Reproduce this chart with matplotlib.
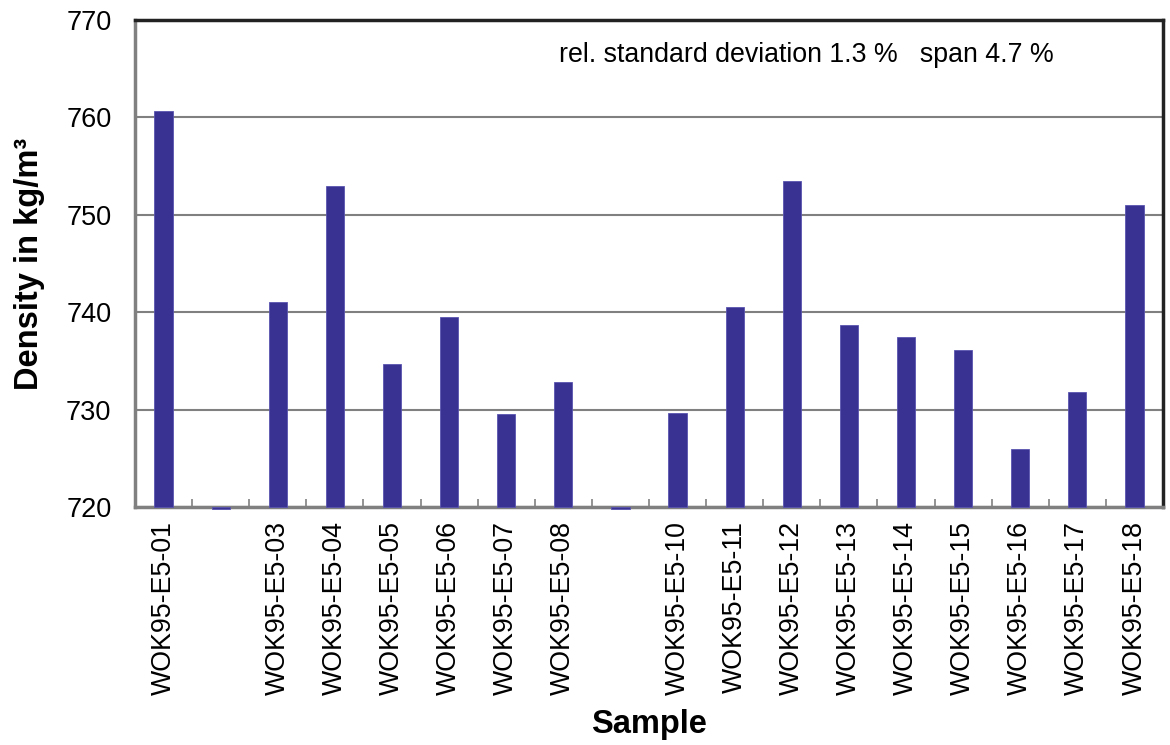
import numpy as np
from matplotlib import pyplot as plt

plt.rcParams['font.family'] = ['Liberation Sans', 'DejaVu Sans']

# sample labels (two samples have no value)
samples = ['WOK95-E5-01', '', 'WOK95-E5-03', 'WOK95-E5-04', 'WOK95-E5-05',
           'WOK95-E5-06', 'WOK95-E5-07', 'WOK95-E5-08', '', 'WOK95-E5-10',
           'WOK95-E5-11', 'WOK95-E5-12', 'WOK95-E5-13', 'WOK95-E5-14',
           'WOK95-E5-15', 'WOK95-E5-16', 'WOK95-E5-17', 'WOK95-E5-18']
density = [760.65, 719.75, 741.1, 753.0, 734.7, 739.5, 729.5, 732.8, 719.75,
           729.65, 740.5, 753.45, 738.65, 737.5, 736.1, 726.0, 731.8, 751.0]
yticks = [720, 730, 740, 750, 760, 770]
note = 'rel. standard deviation 1.3 %   span 4.7 %'

base = 720
fig = plt.figure(figsize=(11.7, 7.45), dpi=100)
ax = fig.add_axes([0.1154, 0.3195, 0.8786, 0.6535])

x = np.arange(len(samples))
heights = [v - base for v in density]
ax.bar(x, heights, bottom=base, width=0.32, color='#3a3293',
       edgecolor='#5b55b0', linewidth=0.6, zorder=3, clip_on=False)

ax.set_xlim(-0.5, len(samples) - 0.5)
ax.set_ylim(720, 770)
ax.set_yticks(yticks)
ax.tick_params(axis='y', length=0, labelsize=19.5, pad=17)
ax.set_xticks(x)
ax.set_xticklabels(samples, rotation=90, fontsize=19.3)
ax.tick_params(axis='x', which='major', length=0, pad=10)
ax.set_xticks(np.arange(len(samples) - 1) + 0.5, minor=True)
ax.tick_params(axis='x', which='minor', direction='in', length=6,
               width=1.2, color='#808080')

ax.grid(axis='y', color='#808080', linewidth=1.5, zorder=1)
for s in ['left', 'bottom']:
    ax.spines[s].set_color('#808080')
    ax.spines[s].set_linewidth(2.5)
for s in ['top', 'right']:
    ax.spines[s].set_color('#222222')
    ax.spines[s].set_linewidth(2.5)

ax.set_ylabel('Density in kg/m³', fontsize=23.5, fontweight='bold', labelpad=15)
ax.set_xlabel('Sample', fontsize=23.5, fontweight='bold', labelpad=10)
ax.text(0.653, 0.928, note, transform=ax.transAxes, ha='center',
        va='center', fontsize=19.3)

plt.savefig('out.png', dpi=100)
